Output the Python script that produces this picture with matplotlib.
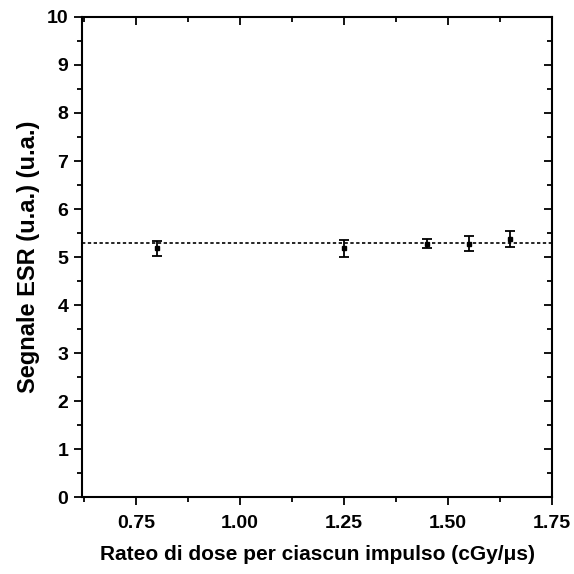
import numpy as np
import matplotlib
matplotlib.use("Agg")
import matplotlib.pyplot as plt
from matplotlib.ticker import MultipleLocator

# data
dose_rate = [0.80, 1.25, 1.45, 1.55, 1.65]
esr_signal = [5.18, 5.18, 5.28, 5.28, 5.38]
esr_err = [0.16, 0.17, 0.10, 0.15, 0.17]
mean_level = 5.30

plt.rcParams['font.family'] = ['Liberation Sans', 'DejaVu Sans']
plt.rcParams['font.weight'] = 'bold'

fig = plt.figure(figsize=(5.74, 5.74), dpi=100)
ax = fig.add_axes([0.1429, 0.1341, 0.8188, 0.8363])

ax.axhline(mean_level, color='black', ls=(0, (2, 1.5)), lw=1.2, zorder=1)
ax.errorbar(dose_rate, esr_signal, yerr=esr_err, fmt='s', ms=2.5,
            color='black', ecolor='black', elinewidth=1.3, capsize=3.8,
            capthick=1.3, zorder=3)

ax.set_xlim(0.62, 1.75)
ax.set_ylim(0, 10)
ax.xaxis.set_major_locator(MultipleLocator(0.25))
ax.xaxis.set_minor_locator(MultipleLocator(0.125))
ax.yaxis.set_major_locator(MultipleLocator(1))
ax.yaxis.set_minor_locator(MultipleLocator(0.5))
ax.xaxis.set_major_formatter(plt.FuncFormatter(lambda v, p: f"{v:.2f}"))

for s in ax.spines.values():
    s.set_linewidth(1.5)

ax.tick_params(which='major', direction='out', length=5.8, width=1.3,
               labelsize=14, pad=4)
ax.tick_params(axis='x', which='major', pad=7.5)
ax.tick_params(which='minor', direction='out', length=3.5, width=1.3)
ax.tick_params(which='both', top=True, right=True)
# ticks on top/right point inward
for t in ax.xaxis.get_ticklines(minor=False)[1::2] + ax.xaxis.get_ticklines(minor=True)[1::2]:
    t.set_marker(3)
for t in ax.yaxis.get_ticklines(minor=False)[1::2] + ax.yaxis.get_ticklines(minor=True)[1::2]:
    t.set_marker(0)

ax.set_xlabel("Rateo di dose per ciascun impulso (cGy/\u03bcs)", fontsize=15,
              fontweight='bold', labelpad=9)
ax.set_ylabel("Segnale ESR (u.a.) (u.a.)", fontsize=17, fontweight='bold',
              labelpad=5)

fig.savefig("out.png", dpi=100)
